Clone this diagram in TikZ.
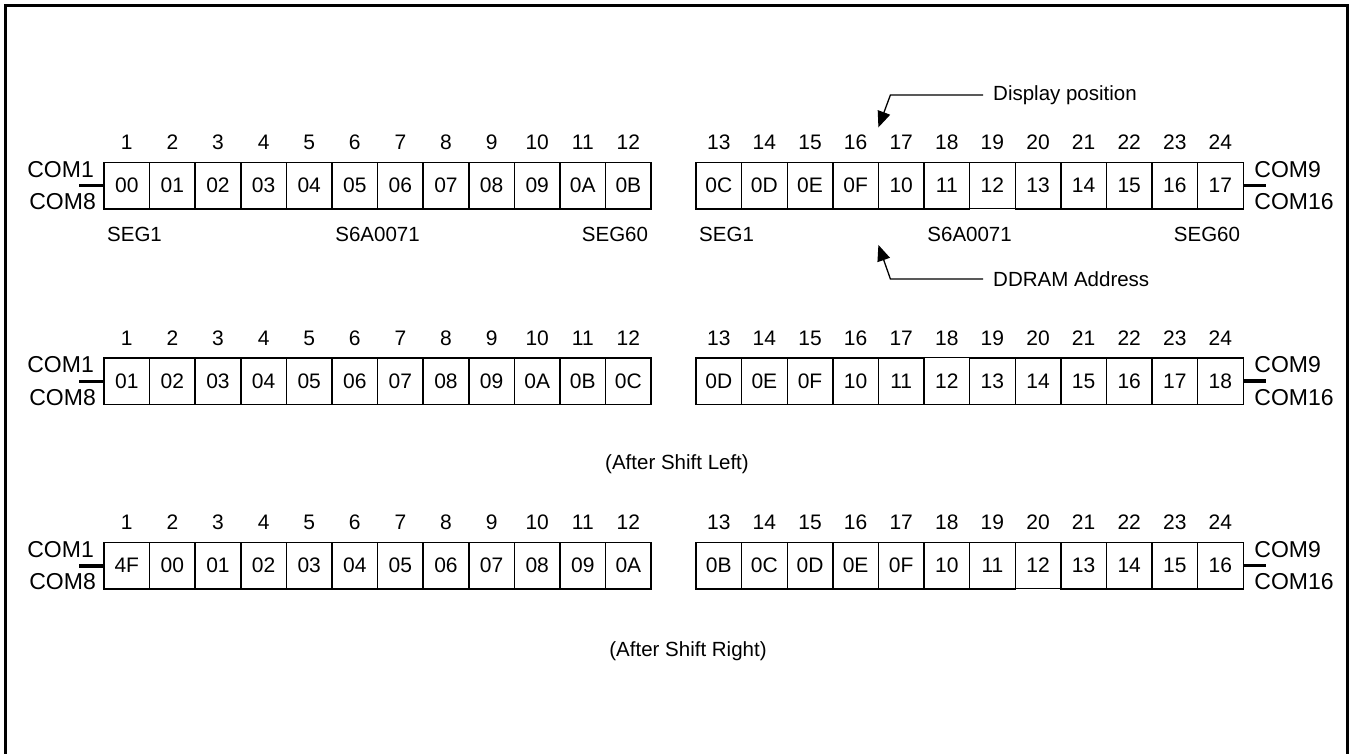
\documentclass[tikz,border=0pt]{standalone}
\usepackage{fontspec}
\setmainfont{Liberation Sans}
\usetikzlibrary{matrix,arrows.meta,positioning,calc}

\begin{document}
\begin{tikzpicture}[x=1pt,y=-1pt,
  ramrow/.style={matrix of nodes, inner sep=0pt, outer sep=0pt, row sep=9pt, column sep=-1.4pt,
    nodes={draw, line width=1.4pt, minimum width=45.6pt, minimum height=46.5pt, inner sep=0pt,
      font=\fontsize{21}{23}\selectfont},
    row 1/.style={nodes={draw=none, minimum height=20pt}}},
  com/.style={font=\fontsize{23}{25}\selectfont, inner sep=0pt},
  seg/.style={font=\fontsize{20.5}{22}\selectfont, inner sep=0pt},
  stub/.style={line width=3.5pt},
  pointer/.style={line width=1.3pt, -{Triangle[length=16pt,width=13pt]}}]
\useasboundingbox (0,0) rectangle (1350,754);
\draw[line width=3pt] (5.5,754) -- (5.5,5.5) -- (1347.5,5.5) -- (1347.5,754);

% display RAM before shift
\matrix (r1a) [ramrow, anchor=south west] at (103.3,209.7) {
 1 & 2 & 3 & 4 & 5 & 6 & 7 & 8 & 9 & 10 & 11 & 12 \\
 00 & 01 & 02 & 03 & 04 & 05 & 06 & 07 & 08 & 09 & 0A & 0B \\
};
\matrix (r1b) [ramrow, anchor=south west] at (695.3,209.7) {
 13 & 14 & 15 & 16 & 17 & 18 & 19 & 20 & 21 & 22 & 23 & 24 \\
 0C & 0D & 0E & 0F & 10 & 11 & 12 & 13 & 14 & 15 & 16 & 17 \\
};

% after shift left
\matrix (r2a) [ramrow, anchor=south west] at (103.3,405.2) {
 1 & 2 & 3 & 4 & 5 & 6 & 7 & 8 & 9 & 10 & 11 & 12 \\
 01 & 02 & 03 & 04 & 05 & 06 & 07 & 08 & 09 & 0A & 0B & 0C \\
};
\matrix (r2b) [ramrow, anchor=south west] at (695.3,405.2) {
 13 & 14 & 15 & 16 & 17 & 18 & 19 & 20 & 21 & 22 & 23 & 24 \\
 0D & 0E & 0F & 10 & 11 & 12 & 13 & 14 & 15 & 16 & 17 & 18 \\
};

% after shift right
\matrix (r3a) [ramrow, anchor=south west] at (103.3,589.7) {
 1 & 2 & 3 & 4 & 5 & 6 & 7 & 8 & 9 & 10 & 11 & 12 \\
 4F & 00 & 01 & 02 & 03 & 04 & 05 & 06 & 07 & 08 & 09 & 0A \\
};
\matrix (r3b) [ramrow, anchor=south west] at (695.3,589.7) {
 13 & 14 & 15 & 16 & 17 & 18 & 19 & 20 & 21 & 22 & 23 & 24 \\
 0B & 0C & 0D & 0E & 0F & 10 & 11 & 12 & 13 & 14 & 15 & 16 \\
};

\foreach \n in {1,2,3} {
  \node[com, anchor=east] (com1-\n) at ($(r\n a-2-1.north west)+(-10,7)$) {COM1};
  \node[com, anchor=east] (com8-\n) at ($(r\n a-2-1.south west)+(-8,-7)$) {COM8};
  \node[com, anchor=west] (com9-\n) at ($(r\n b-2-12.north east)+(11,7)$) {COM9};
  \node[com, anchor=west] (com16-\n) at ($(r\n b-2-12.south east)+(11,-7)$) {COM16};
  \coordinate (sa-\n) at ($(r\n a-2-1.west)+(-25,0)$);
  \coordinate (sb-\n) at ($(r\n b-2-12.east)+(23,0)$);
  \draw[stub] (r\n a-2-1.west) -- (sa-\n);
  \draw[stub] (r\n b-2-12.east) -- (sb-\n);
}

\node[seg, below right=18pt and 3pt of r1a-2-1.south west] (sega1) {SEG1};
\node[seg, below=18pt of r1a-2-6.south east] (chipa) {S6A0071};
\node[seg, below left=18pt and 3pt of r1a-2-12.south east] (sega60) {SEG60};
\node[seg, below right=18pt and 3pt of r1b-2-1.south west] (segb1) {SEG1};
\node[seg, below=18pt of r1b-2-6.south east] (chipb) {S6A0071};
\node[seg, below left=18pt and 3pt of r1b-2-12.south east] (segb60) {SEG60};

% pointers
\node[seg, anchor=west] (dpos) at (993,95) {Display position};
\node[seg, anchor=west] (ddram) at (993,279) {DDRAM Address};
\coordinate (dtip) at ($(r1b-2-4.north east)+(0,-35)$);
\coordinate (dbend) at ($(dpos.west -| dtip)+(12,0)$);
\coordinate (atip) at ($(r1b-2-4.south east)+(0,36)$);
\coordinate (abend) at ($(ddram.west -| atip)+(12,0)$);
\draw[pointer] ([xshift=-10pt]dpos.west) -- (dbend) -- (dtip);
\draw[pointer] ([xshift=-10pt]ddram.west) -- (abend) -- (atip);

\node[seg] (lshift) at (677,464) {(After Shift Left)};
\node[seg] (rshift) at (688,651) {(After Shift Right)};
\end{tikzpicture}
\end{document}
